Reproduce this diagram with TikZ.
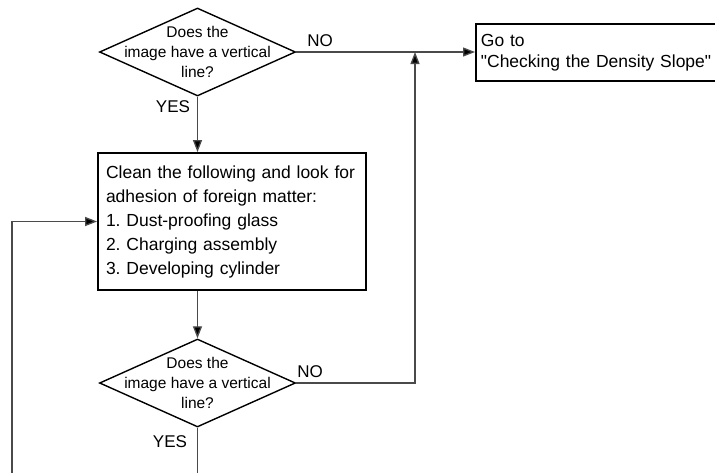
\documentclass[tikz,border=0pt]{standalone}
\usepackage{fontspec}
\setmainfont{Liberation Sans}
\usetikzlibrary{shapes.geometric,arrows.meta}
\definecolor{conn}{HTML}{4A4A4A}
\frenchspacing
\tikzset{
  decision/.style={diamond, draw=black, line width=1.4pt, minimum width=196pt, minimum height=88pt, inner sep=0pt},
  dtext/.style={align=center, font=\fontsize{15.5}{20}\selectfont, inner sep=0pt},
  procbox/.style={rectangle, draw=black, line width=1.8pt, align=left, inner xsep=8pt, inner ysep=0pt, font=\fontsize{17.5}{24}\selectfont},
  lbl/.style={font=\fontsize{17}{20}\selectfont, inner sep=0pt},
  conn/.style={draw=conn, line width=1.3pt},
  arr/.style={conn, -{Triangle[length=12pt,width=9pt,fill=black]}}
}
\begin{document}
\begin{tikzpicture}[x=1pt,y=-1pt]
\useasboundingbox (0,0) rectangle (715,472);
\clip (0,0) rectangle (715,472);
% decisions
\node[decision] (d1) at (197.5,52) {};
\node[dtext] (d1t) at (197.5,52) {Does the\\image have a vertical\\line?};
\node[decision] (d2) at (197.5,383) {};
\node[dtext] (d2t) at (197.5,383) {Does the\\image have a vertical\\line?};
% process box
\node[procbox, text width=252pt, minimum height=137pt] (box) at (232,221.5)
  {Clean the following and look for\\adhesion of foreign matter:\\1. Dust-proofing glass\\2. Charging assembly\\3. Developing cylinder};
% go-to box
\node[procbox, anchor=west, text width=250pt, inner xsep=5pt, minimum height=57pt,
      font=\fontsize{17.5}{21}\selectfont] (go) at (475,52.5)
  {Go to\\\textquotedbl Checking the Density Slope\textquotedbl};
% coordinates
\coordinate (j) at (415,52);
\coordinate (b2) at (197.5,480);
\coordinate (lb) at (12,480);
% connectors
\draw[arr] (d1.south) -- (d1.south |- box.north);
\draw[arr] (d1.east) -- (d1.east -| go.west);
\draw[arr] (d2.east) -| (j);
\draw[arr] (d2.north |- box.south) -- (d2.north);
\draw[conn] (d2.south) -- (b2);
\draw[arr] (lb) |- (box.west);
% labels
\node[lbl] (yes1) at (173,107) {YES};
\node[lbl] (no1) at (320,41) {NO};
\node[lbl] (no2) at (310,372) {NO};
\node[lbl] (yes2) at (170,442) {YES};
\end{tikzpicture}
\end{document}
